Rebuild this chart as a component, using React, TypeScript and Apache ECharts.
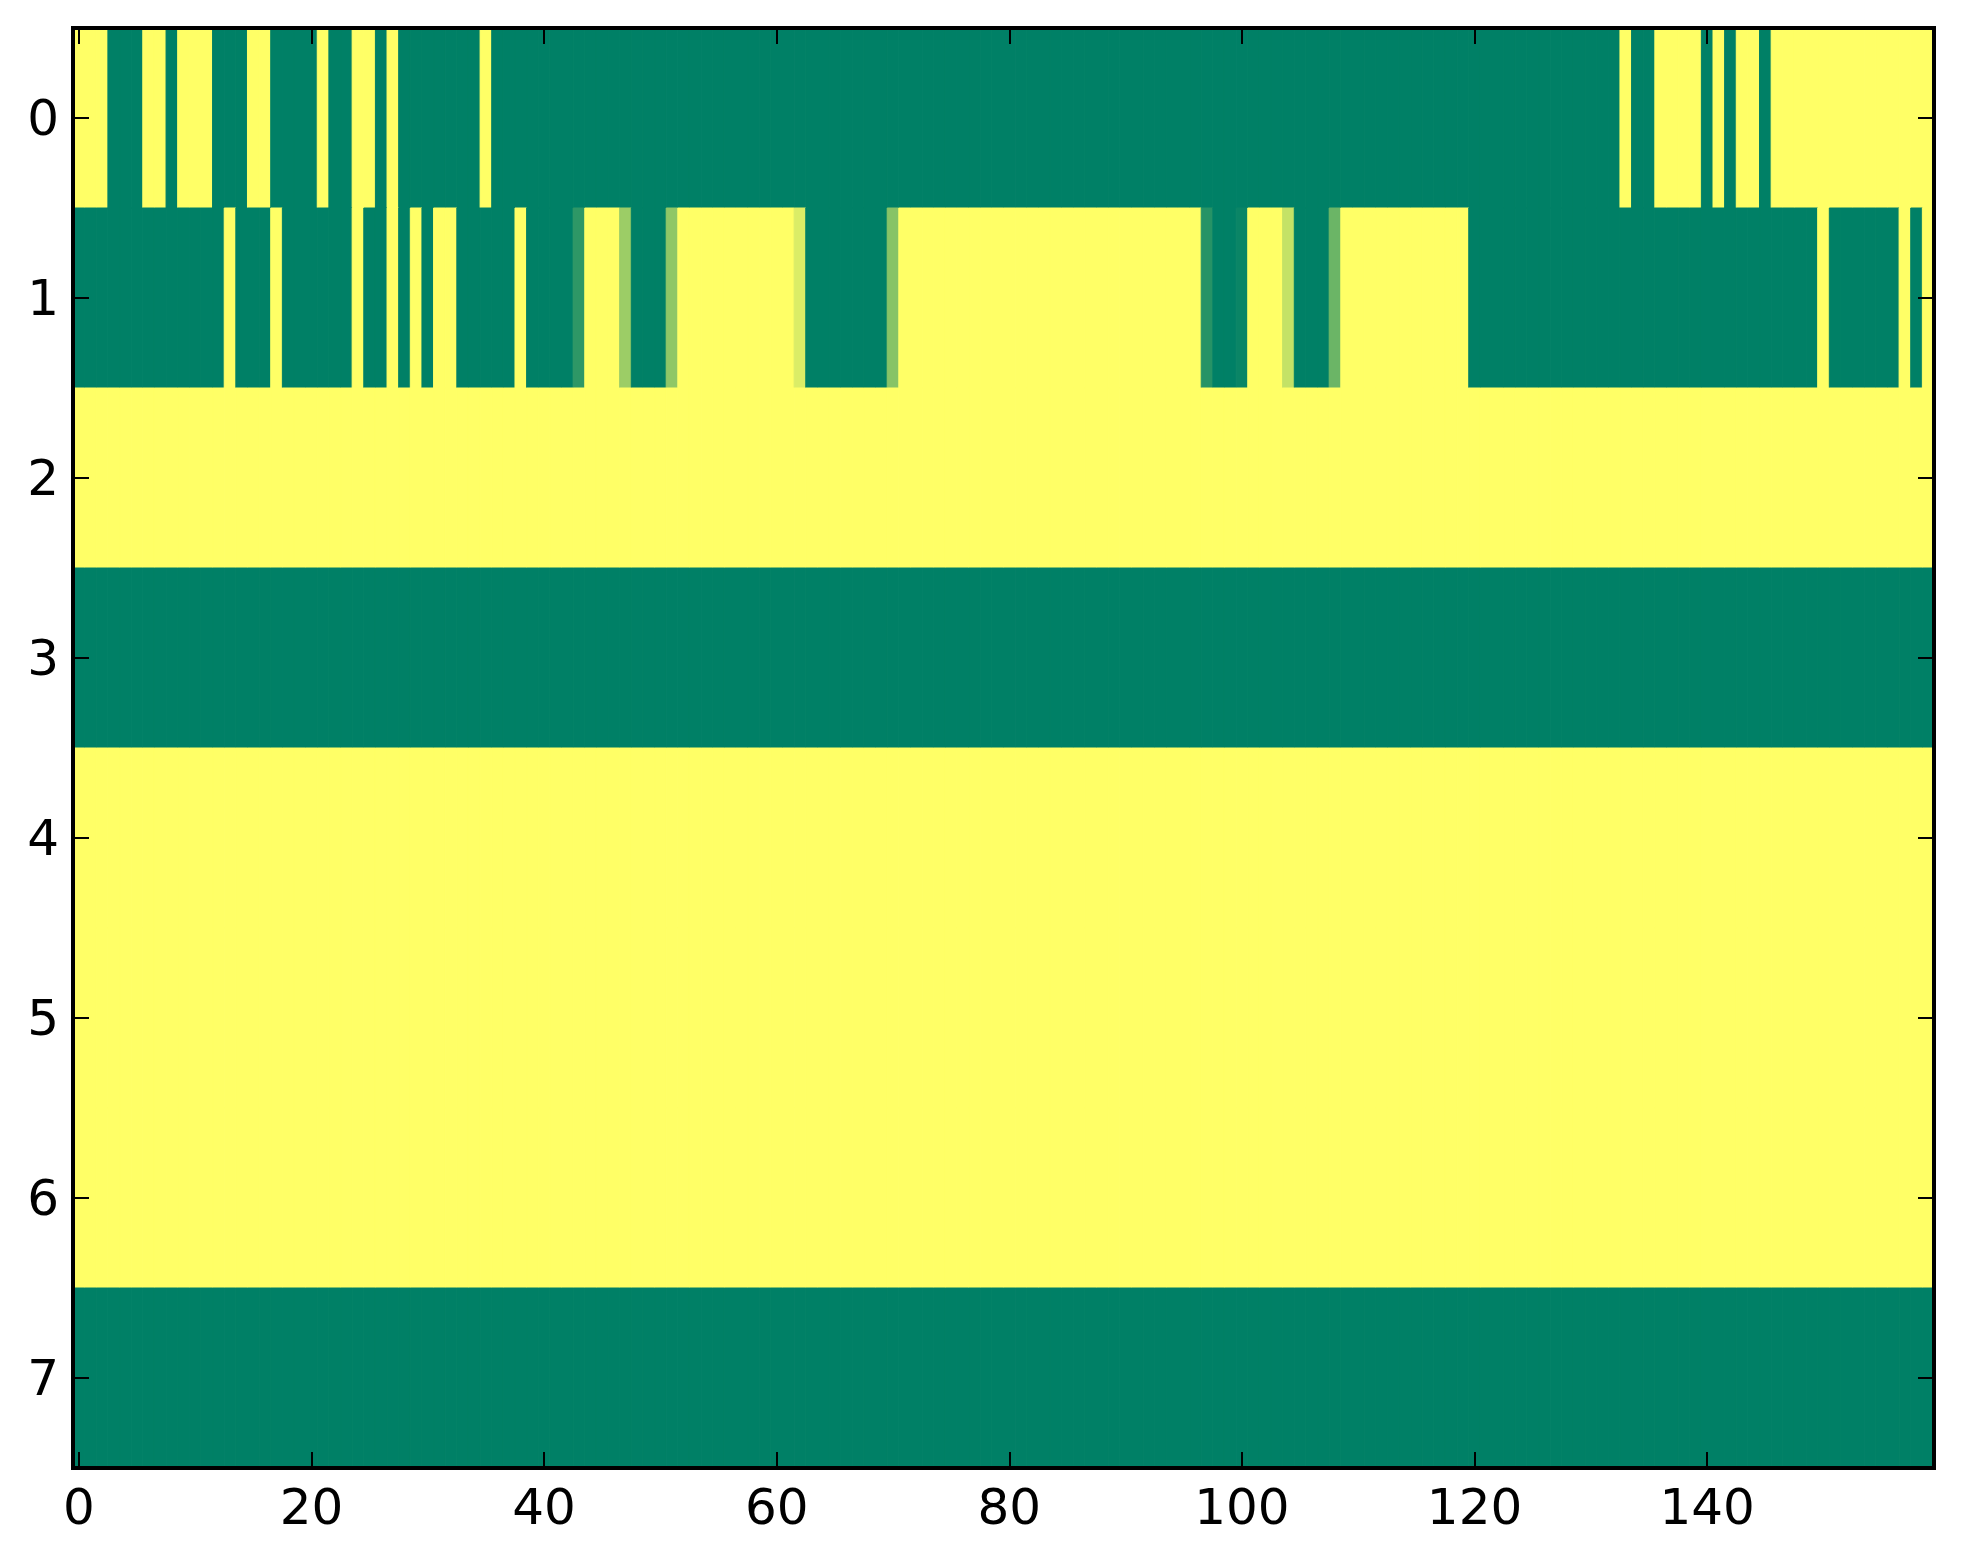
import React, { useEffect, useRef } from "react";
import * as echarts from "echarts";

// column indices 0..159 (imshow columns)
const xCategories: string[] = Array.from({ length: 160 }, (_, i) => String(i));
const yCategories: string[] = ["0", "1", "2", "3", "4", "5", "6", "7"];
const xTickValues: number[] = [0, 20, 40, 60, 80, 100, 120, 140];

const row0: number[] = [
  1, 1, 1, 0, 0, 0, 1, 1, 0, 1,
  1, 1, 0, 0, 0, 1, 1, 0, 0, 0,
  0, 1, 0, 0, 1, 1, 0, 1, 0, 0,
  0, 0, 0, 0, 0, 1, 0, 0, 0, 0,
  0, 0, 0, 0, 0, 0, 0, 0, 0, 0,
  0, 0, 0, 0, 0, 0, 0, 0, 0, 0,
  0, 0, 0, 0, 0, 0, 0, 0, 0, 0,
  0, 0, 0, 0, 0, 0, 0, 0, 0, 0,
  0, 0, 0, 0, 0, 0, 0, 0, 0, 0,
  0, 0, 0, 0, 0, 0, 0, 0, 0, 0,
  0, 0, 0, 0, 0, 0, 0, 0, 0, 0,
  0, 0, 0, 0, 0, 0, 0, 0, 0, 0,
  0, 0, 0, 0, 0, 0, 0, 0, 0, 0,
  0, 0, 0, 1, 0, 0, 1, 1, 1, 1,
  0, 1, 0, 1, 1, 0, 1, 1, 1, 1,
  1, 1, 1, 1, 1, 1, 1, 1, 1, 1,
];

const row1: number[] = [
  0, 0, 0, 0, 0, 0, 0, 0, 0, 0,
  0, 0, 0, 1, 0, 0, 0, 1, 0, 0,
  0, 0, 0, 0, 1, 0, 0, 1, 0, 1,
  0, 1, 1, 0, 0, 0, 0, 0, 1, 0,
  0, 0, 0, 0.18, 1, 1, 1, 0.61, 0, 0,
  0, 0.56, 1, 1, 1, 1, 1, 1, 1, 1,
  1, 1, 0.86, 0, 0, 0, 0, 0, 0, 0,
  0.53, 1, 1, 1, 1, 1, 1, 1, 1, 1,
  1, 1, 1, 1, 1, 1, 1, 1, 1, 1,
  1, 1, 1, 1, 1, 1, 1, 0.15, 0, 0,
  0.04, 1, 1, 1, 0.77, 0, 0, 0, 0.42, 1,
  1, 1, 1, 1, 1, 1, 1, 1, 1, 1,
  0, 0, 0, 0, 0, 0, 0, 0, 0, 0,
  0, 0, 0, 0, 0, 0, 0, 0, 0, 0,
  0, 0, 0, 0, 0, 0, 0, 0, 0, 0,
  1, 0, 0, 0, 0, 0, 0, 1, 0, 1,
];

const row2: number[] = [
  1, 1, 1, 1, 1, 1, 1, 1, 1, 1, 1, 1, 1, 1, 1, 1, 1, 1, 1, 1,
  1, 1, 1, 1, 1, 1, 1, 1, 1, 1, 1, 1, 1, 1, 1, 1, 1, 1, 1, 1,
  1, 1, 1, 1, 1, 1, 1, 1, 1, 1, 1, 1, 1, 1, 1, 1, 1, 1, 1, 1,
  1, 1, 1, 1, 1, 1, 1, 1, 1, 1, 1, 1, 1, 1, 1, 1, 1, 1, 1, 1,
  1, 1, 1, 1, 1, 1, 1, 1, 1, 1, 1, 1, 1, 1, 1, 1, 1, 1, 1, 1,
  1, 1, 1, 1, 1, 1, 1, 1, 1, 1, 1, 1, 1, 1, 1, 1, 1, 1, 1, 1,
  1, 1, 1, 1, 1, 1, 1, 1, 1, 1, 1, 1, 1, 1, 1, 1, 1, 1, 1, 1,
  1, 1, 1, 1, 1, 1, 1, 1, 1, 1, 1, 1, 1, 1, 1, 1, 1, 1, 1, 1,
];

const row3: number[] = [
  0, 0, 0, 0, 0, 0, 0, 0, 0, 0, 0, 0, 0, 0, 0, 0, 0, 0, 0, 0,
  0, 0, 0, 0, 0, 0, 0, 0, 0, 0, 0, 0, 0, 0, 0, 0, 0, 0, 0, 0,
  0, 0, 0, 0, 0, 0, 0, 0, 0, 0, 0, 0, 0, 0, 0, 0, 0, 0, 0, 0,
  0, 0, 0, 0, 0, 0, 0, 0, 0, 0, 0, 0, 0, 0, 0, 0, 0, 0, 0, 0,
  0, 0, 0, 0, 0, 0, 0, 0, 0, 0, 0, 0, 0, 0, 0, 0, 0, 0, 0, 0,
  0, 0, 0, 0, 0, 0, 0, 0, 0, 0, 0, 0, 0, 0, 0, 0, 0, 0, 0, 0,
  0, 0, 0, 0, 0, 0, 0, 0, 0, 0, 0, 0, 0, 0, 0, 0, 0, 0, 0, 0,
  0, 0, 0, 0, 0, 0, 0, 0, 0, 0, 0, 0, 0, 0, 0, 0, 0, 0, 0, 0,
];

const row4: number[] = [
  1, 1, 1, 1, 1, 1, 1, 1, 1, 1, 1, 1, 1, 1, 1, 1, 1, 1, 1, 1,
  1, 1, 1, 1, 1, 1, 1, 1, 1, 1, 1, 1, 1, 1, 1, 1, 1, 1, 1, 1,
  1, 1, 1, 1, 1, 1, 1, 1, 1, 1, 1, 1, 1, 1, 1, 1, 1, 1, 1, 1,
  1, 1, 1, 1, 1, 1, 1, 1, 1, 1, 1, 1, 1, 1, 1, 1, 1, 1, 1, 1,
  1, 1, 1, 1, 1, 1, 1, 1, 1, 1, 1, 1, 1, 1, 1, 1, 1, 1, 1, 1,
  1, 1, 1, 1, 1, 1, 1, 1, 1, 1, 1, 1, 1, 1, 1, 1, 1, 1, 1, 1,
  1, 1, 1, 1, 1, 1, 1, 1, 1, 1, 1, 1, 1, 1, 1, 1, 1, 1, 1, 1,
  1, 1, 1, 1, 1, 1, 1, 1, 1, 1, 1, 1, 1, 1, 1, 1, 1, 1, 1, 1,
];

const row5: number[] = [
  1, 1, 1, 1, 1, 1, 1, 1, 1, 1, 1, 1, 1, 1, 1, 1, 1, 1, 1, 1,
  1, 1, 1, 1, 1, 1, 1, 1, 1, 1, 1, 1, 1, 1, 1, 1, 1, 1, 1, 1,
  1, 1, 1, 1, 1, 1, 1, 1, 1, 1, 1, 1, 1, 1, 1, 1, 1, 1, 1, 1,
  1, 1, 1, 1, 1, 1, 1, 1, 1, 1, 1, 1, 1, 1, 1, 1, 1, 1, 1, 1,
  1, 1, 1, 1, 1, 1, 1, 1, 1, 1, 1, 1, 1, 1, 1, 1, 1, 1, 1, 1,
  1, 1, 1, 1, 1, 1, 1, 1, 1, 1, 1, 1, 1, 1, 1, 1, 1, 1, 1, 1,
  1, 1, 1, 1, 1, 1, 1, 1, 1, 1, 1, 1, 1, 1, 1, 1, 1, 1, 1, 1,
  1, 1, 1, 1, 1, 1, 1, 1, 1, 1, 1, 1, 1, 1, 1, 1, 1, 1, 1, 1,
];

const row6: number[] = [
  1, 1, 1, 1, 1, 1, 1, 1, 1, 1, 1, 1, 1, 1, 1, 1, 1, 1, 1, 1,
  1, 1, 1, 1, 1, 1, 1, 1, 1, 1, 1, 1, 1, 1, 1, 1, 1, 1, 1, 1,
  1, 1, 1, 1, 1, 1, 1, 1, 1, 1, 1, 1, 1, 1, 1, 1, 1, 1, 1, 1,
  1, 1, 1, 1, 1, 1, 1, 1, 1, 1, 1, 1, 1, 1, 1, 1, 1, 1, 1, 1,
  1, 1, 1, 1, 1, 1, 1, 1, 1, 1, 1, 1, 1, 1, 1, 1, 1, 1, 1, 1,
  1, 1, 1, 1, 1, 1, 1, 1, 1, 1, 1, 1, 1, 1, 1, 1, 1, 1, 1, 1,
  1, 1, 1, 1, 1, 1, 1, 1, 1, 1, 1, 1, 1, 1, 1, 1, 1, 1, 1, 1,
  1, 1, 1, 1, 1, 1, 1, 1, 1, 1, 1, 1, 1, 1, 1, 1, 1, 1, 1, 1,
];

const row7: number[] = [
  0, 0, 0, 0, 0, 0, 0, 0, 0, 0, 0, 0, 0, 0, 0, 0, 0, 0, 0, 0,
  0, 0, 0, 0, 0, 0, 0, 0, 0, 0, 0, 0, 0, 0, 0, 0, 0, 0, 0, 0,
  0, 0, 0, 0, 0, 0, 0, 0, 0, 0, 0, 0, 0, 0, 0, 0, 0, 0, 0, 0,
  0, 0, 0, 0, 0, 0, 0, 0, 0, 0, 0, 0, 0, 0, 0, 0, 0, 0, 0, 0,
  0, 0, 0, 0, 0, 0, 0, 0, 0, 0, 0, 0, 0, 0, 0, 0, 0, 0, 0, 0,
  0, 0, 0, 0, 0, 0, 0, 0, 0, 0, 0, 0, 0, 0, 0, 0, 0, 0, 0, 0,
  0, 0, 0, 0, 0, 0, 0, 0, 0, 0, 0, 0, 0, 0, 0, 0, 0, 0, 0, 0,
  0, 0, 0, 0, 0, 0, 0, 0, 0, 0, 0, 0, 0, 0, 0, 0, 0, 0, 0, 0,
];

const rows: number[][] = [row0, row1, row2, row3, row4, row5, row6, row7];

const FONT = "DejaVu Sans";

export default function App() {
  const ref = useRef<HTMLDivElement>(null);

  useEffect(() => {
    if (!ref.current) return;
    const chart = echarts.init(ref.current, null, { renderer: "svg" });

    const data: number[][] = [];
    rows.forEach((r, y) => r.forEach((v, x) => data.push([x, y, v])));

    const isTick = (i: number) => xTickValues.indexOf(i) >= 0;

    const lineStyle = { color: "#000", width: 4, cap: "square" as const };
    const tickStyle = { color: "#000", width: 2 };
    const labelStyle = {
      color: "#000",
      fontSize: 50,
      fontFamily: FONT,
    };

    const xBase = {
      type: "category" as const,
      data: xCategories,
      boundaryGap: true,
      z: 10,
      axisLine: { show: true, lineStyle },
      splitLine: { show: false },
    };
    const yBase = {
      type: "category" as const,
      data: yCategories,
      inverse: true,
      boundaryGap: true,
      z: 10,
      axisLine: { show: true, lineStyle },
      splitLine: { show: false },
    };

    chart.setOption({
      animation: false,
      backgroundColor: "#fff",
      grid: { left: 73, top: 28, width: 1861, height: 1440, containLabel: false },
      visualMap: {
        show: false,
        type: "continuous",
        min: 0,
        max: 1,
        dimension: 2,
        seriesIndex: 0,
        inRange: { color: ["#008066", "#ffff66"] },
      },
      xAxis: [
        {
          ...xBase,
          position: "bottom",
          axisTick: {
            show: true,
            inside: true,
            length: 16,
            alignWithLabel: true,
            interval: (i: number) => isTick(i),
            lineStyle: tickStyle,
          },
          axisLabel: {
            ...labelStyle,
            margin: 14,
            interval: (i: number) => isTick(i),
          },
        },
        {
          ...xBase,
          position: "top",
          axisTick: {
            show: true,
            inside: true,
            length: 16,
            alignWithLabel: true,
            interval: (i: number) => isTick(i),
            lineStyle: tickStyle,
          },
          axisLabel: { show: false },
        },
      ],
      yAxis: [
        {
          ...yBase,
          position: "left",
          axisTick: {
            show: true,
            inside: true,
            length: 16,
            alignWithLabel: true,
            interval: 0,
            lineStyle: tickStyle,
          },
          axisLabel: { ...labelStyle, margin: 14, interval: 0 },
        },
        {
          ...yBase,
          position: "right",
          axisTick: {
            show: true,
            inside: true,
            length: 16,
            alignWithLabel: true,
            interval: 0,
            lineStyle: tickStyle,
          },
          axisLabel: { show: false },
        },
      ],
      series: [
        {
          type: "custom",
          xAxisIndex: 0,
          yAxisIndex: 0,
          z: 1,
          data,
          encode: { x: 0, y: 1 },
          renderItem: (params: any, api: any) => {
            const c = api.coord([api.value(0), api.value(1)]);
            const s = api.size([1, 1]);
            const color = api.visual("color");
            return {
              type: "rect",
              shape: { x: c[0] - s[0] / 2, y: c[1] - s[1] / 2, width: s[0], height: s[1] },
              style: { fill: color, stroke: color, lineWidth: 1 },
            };
          },
        },
      ],
    });

    return () => chart.dispose();
  }, []);

  return (
    <div
      ref={ref}
      style={{ position: "absolute", left: 0, top: 0, width: 1963, height: 1564, background: "#fff" }}
    />
  );
}
